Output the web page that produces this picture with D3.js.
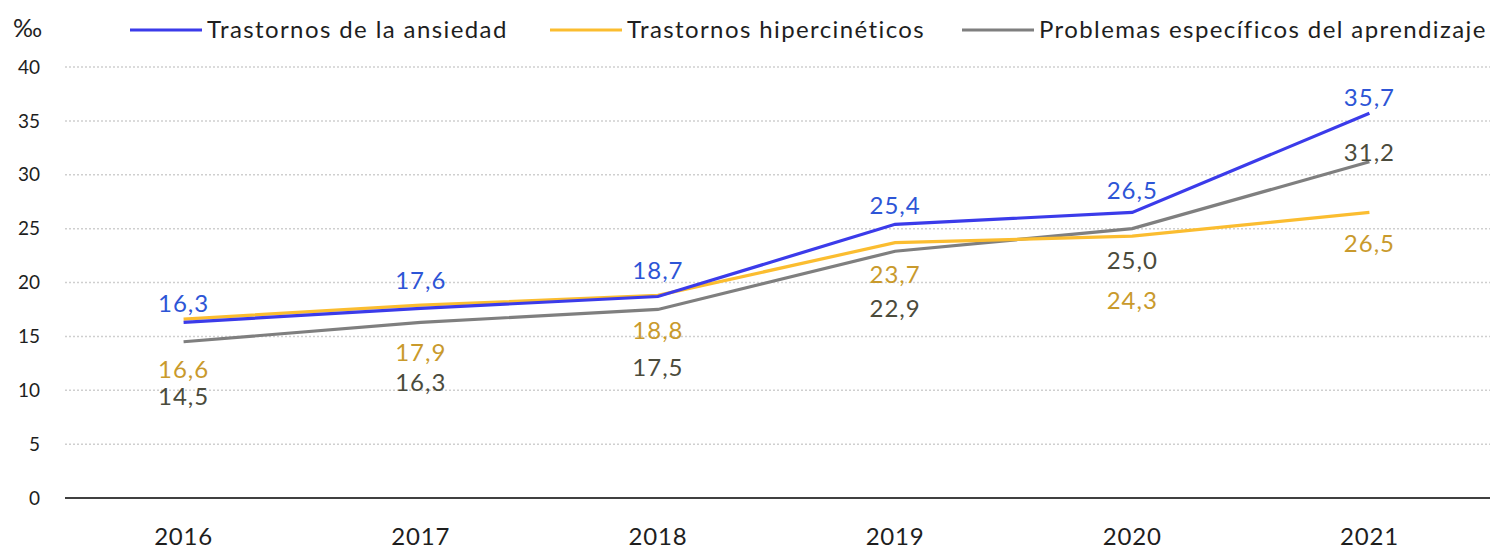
<!DOCTYPE html>
<html>
<head>
<meta charset="utf-8">
<script src="https://cdn.jsdelivr.net/npm/d3@7"></script>
<style>
  body { margin: 0; background: #fff; }
  text { font-family: Lato, "Noto Sans", sans-serif; }
</style>
</head>
<body>
<div id="chart"></div>
<script>
// data (per mil)
const years = ["2016", "2017", "2018", "2019", "2020", "2021"];
const ansiedad = [16.3, 17.6, 18.7, 25.4, 26.5, 35.7];
const hipercineticos = [16.6, 17.9, 18.8, 23.7, 24.3, 26.5];
const aprendizaje = [14.5, 16.3, 17.5, 22.9, 25.0, 31.2];
const seriesNames = ["Trastornos de la ansiedad", "Trastornos hipercinéticos", "Problemas específicos del aprendizaje"];
const yTicks = [0, 5, 10, 15, 20, 25, 30, 35, 40];

// label placement (pixel offsets from the point, like the hand-moved labels in the original)
const labelDy = [
  [-19, -28, -26, -19, -22, -16],
  [50, 47, 35, 32, 64, 31],
  [55, 60, 58, 57, 32, -9]
];

const W = 1494, H = 550;
const lineColors = ["#3b3bea", "#fbbd30", "#7f7f7f"];
const textColors = ["#2d55d6", "#c99a2c", "#4b4b3c"];

const svg = d3.select("#chart").append("svg")
  .attr("width", W).attr("height", H);

const x = d3.scaleBand().domain(years).range([65, 1488]);
const y = d3.scaleLinear().domain([0, 40]).range([498, 67]);

// grid
svg.append("g")
  .selectAll("line")
  .data(yTicks.filter(d => d > 0))
  .enter().append("line")
  .attr("x1", 65).attr("x2", 1490)
  .attr("y1", d => y(d)).attr("y2", d => y(d))
  .attr("stroke", "#cfcfcf")
  .attr("stroke-width", 1.5)
  .attr("stroke-dasharray", "2,2");

// y axis labels
svg.append("g")
  .selectAll("text")
  .data(yTicks)
  .enter().append("text")
  .attr("x", 40).attr("y", d => y(d))
  .attr("dy", "0.35em")
  .attr("text-anchor", "end")
  .attr("font-size", 19)
  .attr("fill", "#1e1e1e")
  .text(d => d);

svg.append("text")
  .attr("x", 13).attr("y", 37)
  .attr("font-size", 25)
  .attr("fill", "#1e1e1e")
  .text("‰");

// x axis
const xAxis = svg.append("g")
  .attr("transform", `translate(0,${y(0)})`)
  .call(d3.axisBottom(x).tickSize(0).tickPadding(30));
xAxis.select(".domain").attr("stroke", "#404040").attr("stroke-width", 2)
  .attr("d", "M65,0H1490");
xAxis.selectAll(".tick text")
  .attr("font-family", "Lato, 'Noto Sans', sans-serif")
  .attr("font-size", 24)
  .attr("letter-spacing", 0.8)
  .attr("fill", "#1e1e1e");

// lines
const allSeries = [ansiedad, hipercineticos, aprendizaje];
const line = d3.line()
  .x((d, i) => x(years[i]) + x.bandwidth() / 2)
  .y(d => y(d));

// draw order: grey, yellow, blue on top
[2, 1, 0].forEach(s => {
  svg.append("path")
    .datum(allSeries[s])
    .attr("d", line)
    .attr("fill", "none")
    .attr("stroke", lineColors[s])
    .attr("stroke-width", 3.2);
});

// labels
allSeries.forEach((vals, s) => {
  svg.append("g")
    .selectAll("text")
    .data(vals)
    .enter().append("text")
    .attr("x", (d, i) => x(years[i]) + x.bandwidth() / 2)
    .attr("y", (d, i) => y(d) + labelDy[s][i])
    .attr("dy", "0.35em")
    .attr("text-anchor", "middle")
    .attr("font-size", 24)
    .attr("letter-spacing", 1)
    .attr("fill", textColors[s])
    .text(d => d3.format(".1f")(d).replace(".", ","));
});

// legend
const legendX = [130, 550, 962];
const legend = svg.append("g");
seriesNames.forEach((name, s) => {
  legend.append("line")
    .attr("x1", legendX[s]).attr("x2", legendX[s] + 72)
    .attr("y1", 30).attr("y2", 30)
    .attr("stroke", lineColors[s])
    .attr("stroke-width", 3.2);
  legend.append("text")
    .attr("x", legendX[s] + 77).attr("y", 30)
    .attr("dy", "0.35em")
    .attr("font-size", 24)
    .attr("letter-spacing", 1.4)
    .attr("fill", "#1e1e1e")
    .text(name);
});
</script>
</body>
</html>
